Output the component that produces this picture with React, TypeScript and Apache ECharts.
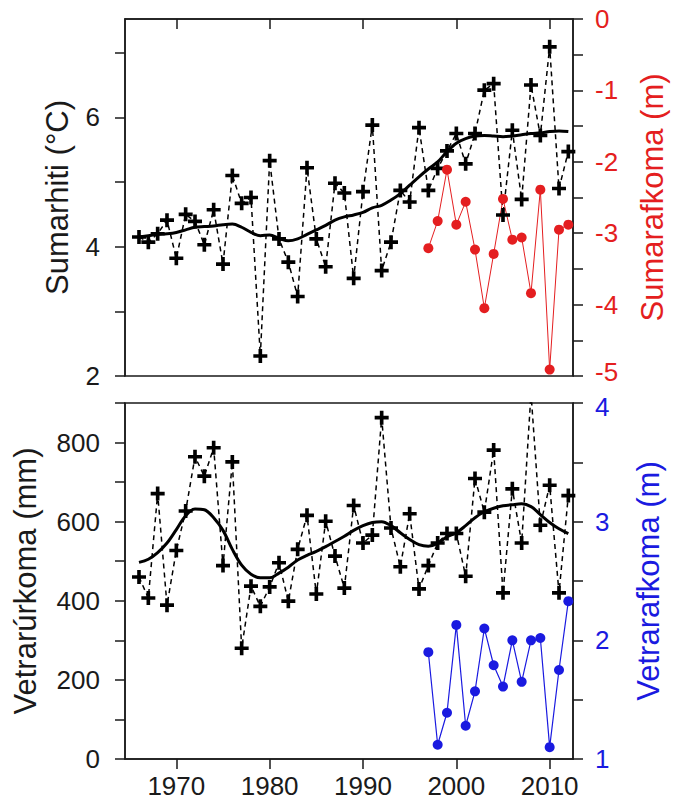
import React, { useEffect, useRef } from 'react';
import * as echarts from 'echarts';

// Years of the climate series
const years = [
  1966, 1967, 1968, 1969, 1970, 1971, 1972, 1973, 1974, 1975, 1976, 1977, 1978, 1979, 1980, 1981,
  1982, 1983, 1984, 1985, 1986, 1987, 1988, 1989, 1990, 1991, 1992, 1993, 1994, 1995, 1996, 1997,
  1998, 1999, 2000, 2001, 2002, 2003, 2004, 2005, 2006, 2007, 2008, 2009, 2010, 2011, 2012,
];

// Summer temperature (°C)
const sumarhiti = [
  4.15, 4.07, 4.2, 4.41, 3.82, 4.5, 4.39, 4.03, 4.57, 3.73, 5.1, 4.67, 4.76, 2.31, 5.33, 4.12,
  3.76, 3.23, 5.22, 4.12, 3.69, 4.98, 4.83, 3.51, 4.85, 5.88, 3.63, 4.07, 4.87, 4.69, 5.84, 4.87,
  5.21, 5.48, 5.75, 5.28, 5.75, 6.42, 6.52, 4.49, 5.8, 4.73, 6.5, 5.72, 7.09, 4.9, 5.47,
];

// Smoothed summer temperature
const sumarhitiSmooth = [
  4.15, 4.17, 4.19, 4.2, 4.22, 4.26, 4.3, 4.31, 4.32, 4.34, 4.35, 4.3, 4.22, 4.17, 4.18, 4.13,
  4.09, 4.12, 4.19, 4.26, 4.33, 4.41, 4.46, 4.49, 4.53, 4.6, 4.64, 4.72, 4.82, 4.95, 5.08, 5.2,
  5.31, 5.47, 5.6, 5.67, 5.71, 5.72, 5.71, 5.7, 5.71, 5.73, 5.75, 5.76, 5.78, 5.79, 5.78,
];

// Winter precipitation (mm)
const vetrarurkoma = [
  460, 407, 671, 389, 527, 627, 764, 715, 787, 489, 751, 280, 437, 386, 435, 496,
  399, 530, 616, 417, 601, 513, 432, 641, 546, 566, 863, 584, 486, 620, 430, 489,
  546, 570, 570, 462, 709, 624, 781, 420, 683, 546, 925, 591, 692, 420, 666,
];

// Smoothed winter precipitation
const vetrarurkomaSmooth = [
  497, 505, 522, 546, 580, 615, 632, 630, 610, 578, 530, 490, 467, 458, 458, 470,
  485, 503, 515, 525, 537, 550, 563, 578, 590, 598, 600, 590, 572, 555, 542, 538,
  545, 562, 572, 590, 610, 625, 634, 640, 643, 645, 638, 618, 598, 582, 570,
];

// Mass balance years
const balanceYears = [1997, 1998, 1999, 2000, 2001, 2002, 2003, 2004, 2005, 2006, 2007, 2008, 2009, 2010, 2011, 2012];

// Summer balance (m)
const sumarafkoma = [-3.21, -2.83, -2.11, -2.88, -2.56, -3.23, -4.05, -3.29, -2.52, -3.09, -3.06, -3.84, -2.39, -4.91, -2.95, -2.88];

// Winter balance (m)
const vetrarafkoma = [1.9, 1.12, 1.39, 2.13, 1.28, 1.57, 2.1, 1.79, 1.61, 2.0, 1.65, 2.0, 2.02, 1.1, 1.75, 2.33];

// Tick values and labels
const xTicks = [1970, 1980, 1990, 2000, 2010];
const topLeftTicks = [2, 3, 4, 5, 6, 7];
const topLeftLabels = [2, 4, 6];
const topRightTicks = [-5, -4.5, -4, -3.5, -3, -2.5, -2, -1.5, -1, -0.5, 0];
const topRightLabels = [-5, -4, -3, -2, -1, 0];
const botLeftTicks = [0, 100, 200, 300, 400, 500, 600, 700, 800, 900];
const botLeftLabels = [0, 200, 400, 600, 800];
const botRightTicks = [1, 1.5, 2, 2.5, 3, 3.5, 4];
const botRightLabels = [1, 2, 3, 4];

const RED = '#e41e20';
const BLUE = '#1a1ae0';
const INK = '#1a1a1a';
const FONT = '"Liberation Sans", Arial, sans-serif';

const CROSS = 'path://M3.7,0H6.3V3.7H10V6.3H6.3V10H3.7V6.3H0V3.7H3.7Z';

const axisLine = { show: true, lineStyle: { color: INK, width: 1.5 } };
const tick = (vals: number[]) => ({
  show: true,
  inside: false,
  length: 10,
  customValues: vals,
  lineStyle: { color: INK, width: 1.5 },
});
const label = (vals: number[], color: string, margin: number, extra?: any) => ({
  show: true,
  customValues: vals,
  fontSize: 26,
  color,
  margin,
  fontFamily: FONT,
  formatter: (v: number) => String(v),
  ...(extra || {}),
});

export default function App() {
  const ref = useRef<HTMLDivElement>(null);
  useEffect(() => {
    document.body.style.margin = '0';
    const chart = echarts.init(ref.current!, null, { renderer: 'svg' });
    const pair = (xs: number[], ys: number[]) => xs.map((x, i) => [x, ys[i]]);
    chart.setOption({
      animation: false,
      backgroundColor: '#fff',
      textStyle: { fontFamily: FONT },
      grid: [
        { left: 125, top: 19, width: 448, height: 357, show: true, borderColor: INK, borderWidth: 1.5, backgroundColor: 'transparent' },
        { left: 125, top: 403, width: 448, height: 356, show: true, borderColor: INK, borderWidth: 1.5, backgroundColor: 'transparent' },
      ],
      xAxis: [
        {
          gridIndex: 0, type: 'value', min: 1964.5, max: 2012.5, position: 'bottom',
          axisLine, axisTick: tick(xTicks), axisLabel: { show: false }, splitLine: { show: false },
        },
        {
          gridIndex: 1, type: 'value', min: 1964.5, max: 2012.5, position: 'bottom',
          axisLine, axisTick: tick(xTicks), axisLabel: label(xTicks, INK, 14), splitLine: { show: false },
        },
      ],
      yAxis: [
        {
          gridIndex: 0, type: 'value', min: 2, max: 7.52, position: 'left',
          axisLine, axisTick: tick(topLeftTicks), axisLabel: label(topLeftLabels, INK, 25), splitLine: { show: false },
          name: 'Sumarhiti (°C)', nameLocation: 'middle', nameGap: 52, nameRotate: 90,
          nameTextStyle: { fontSize: 31, color: INK, fontFamily: FONT },
        },
        {
          gridIndex: 0, type: 'value', min: -5, max: 0, position: 'right',
          axisLine, axisTick: tick(topRightTicks),
          axisLabel: label(topRightLabels, RED, 22, {
            formatter: (v: number) => (v === -5 ? '{lo|-5}' : String(v)),
            rich: { lo: { fontSize: 26, color: RED, fontFamily: FONT, padding: [0, 0, 8, 0] } },
          }),
          splitLine: { show: false },
          name: 'Sumarafkoma (m)', nameLocation: 'middle', nameGap: 64, nameRotate: 90,
          nameTextStyle: { fontSize: 31, color: RED, fontFamily: FONT },
        },
        {
          gridIndex: 1, type: 'value', min: 0, max: 900, position: 'left',
          axisLine, axisTick: tick(botLeftTicks), axisLabel: label(botLeftLabels, INK, 25), splitLine: { show: false },
          name: 'Vetrarúrkoma (mm)', nameLocation: 'middle', nameGap: 84, nameRotate: 90,
          nameTextStyle: { fontSize: 31, color: INK, fontFamily: FONT },
        },
        {
          gridIndex: 1, type: 'value', min: 1, max: 4, position: 'right',
          axisLine, axisTick: tick(botRightTicks),
          axisLabel: label(botRightLabels, BLUE, 22, {
            formatter: (v: number) => (v === 4 ? '{hi|4}' : String(v)),
            rich: { hi: { fontSize: 26, color: BLUE, fontFamily: FONT, padding: [8, 0, 0, 0] } },
          }),
          splitLine: { show: false },
          name: 'Vetrarafkoma (m)', nameLocation: 'middle', nameGap: 60, nameRotate: 90,
          nameTextStyle: { fontSize: 31, color: BLUE, fontFamily: FONT },
        },
      ],
      series: [
        {
          type: 'line', xAxisIndex: 0, yAxisIndex: 0, data: pair(years, sumarhiti),
          symbol: CROSS, symbolSize: 14, itemStyle: { color: '#000' },
          lineStyle: { color: '#000', width: 1.5, type: [5, 4] },
        },
        {
          type: 'line', xAxisIndex: 0, yAxisIndex: 0, data: pair(years, sumarhitiSmooth),
          symbol: 'none', smooth: 0.35, lineStyle: { color: '#000', width: 3 },
        },
        {
          type: 'line', xAxisIndex: 0, yAxisIndex: 1, data: pair(balanceYears, sumarafkoma),
          symbol: 'circle', symbolSize: 10, itemStyle: { color: RED },
          lineStyle: { color: RED, width: 1 },
        },
        {
          type: 'line', xAxisIndex: 1, yAxisIndex: 2, data: pair(years, vetrarurkoma),
          symbol: CROSS, symbolSize: 14, itemStyle: { color: '#000' },
          lineStyle: { color: '#000', width: 1.5, type: [5, 4] },
        },
        {
          type: 'line', xAxisIndex: 1, yAxisIndex: 2, data: pair(years, vetrarurkomaSmooth),
          symbol: 'none', smooth: 0.35, lineStyle: { color: '#000', width: 3 },
        },
        {
          type: 'line', xAxisIndex: 1, yAxisIndex: 3, data: pair(balanceYears, vetrarafkoma),
          symbol: 'circle', symbolSize: 10, itemStyle: { color: BLUE },
          lineStyle: { color: BLUE, width: 1.2 },
        },
      ],
    });
    return () => chart.dispose();
  }, []);
  return <div ref={ref} style={{ width: 677, height: 800 }} />;
}
